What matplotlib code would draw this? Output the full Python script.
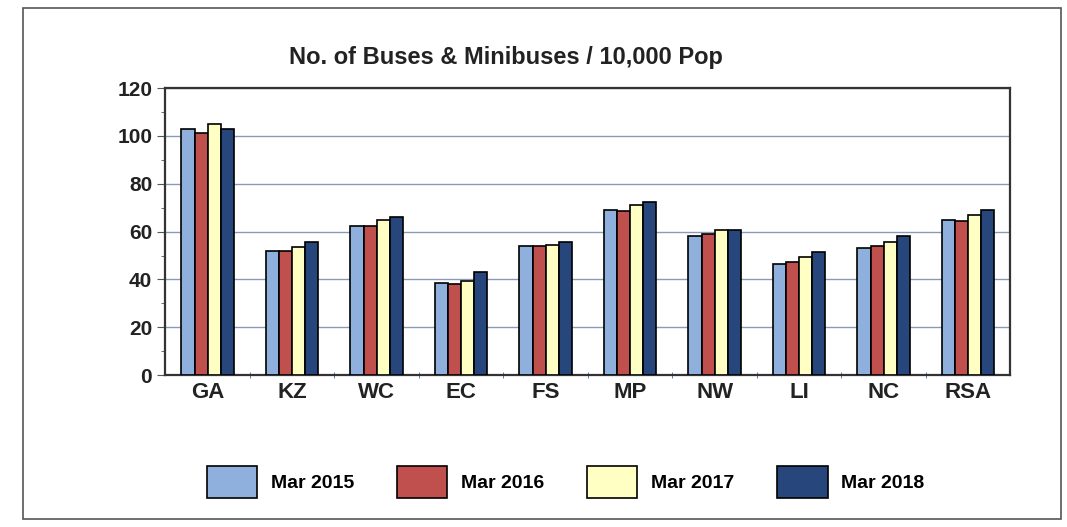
import numpy as np
import matplotlib
matplotlib.use("Agg")
import matplotlib.pyplot as plt
from matplotlib.patches import Rectangle

# data
regions = ["GA", "KZ", "WC", "EC", "FS", "MP", "NW", "LI", "NC", "RSA"]
series = ["Mar 2015", "Mar 2016", "Mar 2017", "Mar 2018"]
mar2015 = [103, 52, 62.5, 38.5, 54, 69, 58, 46.5, 53, 65]
mar2016 = [101, 52, 62.5, 38, 54, 68.5, 59, 47.5, 54, 64.5]
mar2017 = [105, 53.5, 65, 39.5, 54.5, 71, 60.5, 49.5, 55.5, 67]
mar2018 = [103, 55.5, 66, 43, 55.5, 72.5, 60.5, 51.5, 58, 69]
yticks = [0, 20, 40, 60, 80, 100, 120]

colors = ["#8fb0dc", "#c0504d", "#ffffc4", "#27467c"]
plt.rcParams["font.family"] = ["Liberation Sans", "DejaVu Sans"]

fig = plt.figure(figsize=(10.67, 5.27), dpi=100)
fig.patch.set_facecolor("white")
fig.patches.append(Rectangle((0.022, 0.015), 0.972, 0.97, transform=fig.transFigure,
                             fill=False, edgecolor="#555555", linewidth=1.2))

ax = fig.add_axes([0.155, 0.288, 0.792, 0.545])
x = np.arange(len(regions))
w = 0.155
all_vals = [mar2015, mar2016, mar2017, mar2018]
for i, vals in enumerate(all_vals):
    ax.bar(x + (i - 1.5) * w, vals, w, color=colors[i], edgecolor="black",
           linewidth=1.2, label=series[i], zorder=3)

ax.set_ylim(0, 120)
ax.set_xlim(-0.5, len(regions) - 0.5)
ax.set_yticks(yticks)
ax.set_yticklabels([str(t) for t in yticks], fontsize=15, fontweight="bold", color="#222222")
ax.set_yticks(np.arange(10, 120, 20), minor=True)
ax.set_xticks(x)
ax.set_xticklabels(regions, fontsize=16, fontweight="bold", color="#222222")
ax.set_xticks(np.arange(0.5, len(regions) - 0.5, 1), minor=True)
ax.tick_params(axis="x", which="major", length=0, pad=5)
ax.tick_params(axis="x", which="minor", length=5, color="#3a6a9a", direction="inout")
ax.tick_params(axis="y", which="major", length=6, color="#555555")
ax.tick_params(axis="y", which="minor", length=3, color="#555555")
ax.grid(axis="y", color="#8a9bb5", linewidth=1.0, zorder=0)
for s in ax.spines.values():
    s.set_color("#333333")
    s.set_linewidth(1.6)

fig.text(0.474, 0.89, "No. of Buses & Minibuses / 10,000 Pop", ha="center", va="center",
         fontsize=17, fontweight="bold", color="#222222")

fig.legend(loc="center", bbox_to_anchor=(0.53, 0.085), ncol=4, frameon=False,
           prop={"size": 14, "weight": "bold"}, handlelength=2.6, handleheight=2.2,
           columnspacing=2.2, handletextpad=0.7)

fig.savefig("out.png", dpi=100)
